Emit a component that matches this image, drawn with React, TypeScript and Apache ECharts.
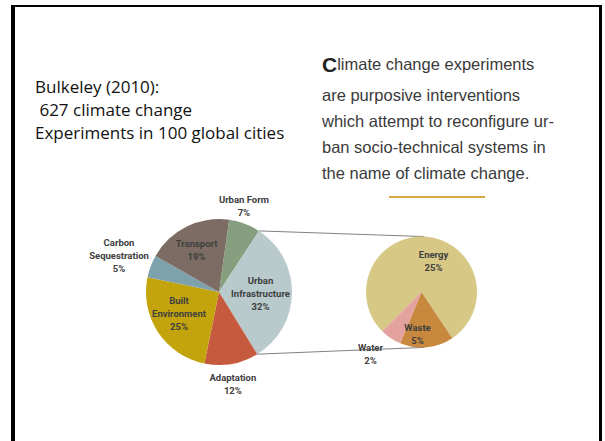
import React, { useEffect, useRef } from "react";
import * as echarts from "echarts";

// ---- data ----
const mainCategories = ["Urban Form", "Urban Infrastructure", "Adaptation", "Built Environment", "Carbon Sequestration", "Transport"];
const mainLabelNames = ["Urban Form", "Urban\nInfrastructure", "Adaptation", "Built\nEnvironment", "Carbon\nSequestration", "Transport"];
const mainValues = [7, 32, 12, 25, 5, 19];
const subCategories = ["Energy", "Waste", "Water"];
const subValues = [25, 5, 2];
const leftText = ["Bulkeley (2010):", " 627 climate change", "Experiments in 100 global cities"];
const quoteLines = ["are purposive interventions", "which attempt to reconfigure ur-", "ban socio-technical systems in", "the name of climate change."];

// ---- styles ----
const mainColors = ["#86a07f", "#b8cacb", "#c65a3f", "#c4a40c", "#7ea2ab", "#7c6c63"];
const subColors = ["#d8c886", "#c8893f", "#e3a29d"];
const mainNudges = [[11, -49], [2, 1], [7, 53], [-7, 0], [-63, -23], [-5, -7]];
const subNudges = [[9, 0], [-7, 11], [-34, 36]];

const C1 = [219, 292], R1 = 73, START1 = 82;
const C2 = [421.5, 292], R2 = 55.5, START2 = -135;

function pt(c: number[], r: number, clockDeg: number) {
  const a = (clockDeg * Math.PI) / 180;
  return [c[0] + r * Math.sin(a), c[1] - r * Math.cos(a)];
}

export default function App() {
  const ref = useRef<HTMLDivElement>(null);
  useEffect(() => {
    const chart = echarts.init(ref.current!, null, { renderer: "svg" });
    const total = mainValues.reduce((a, b) => a + b, 0);
    const base = 90 - START1;
    const infraStart = base + (mainValues[0] / total) * 360;
    const infraEnd = infraStart + (mainValues[1] / total) * 360;
    const p1 = pt(C1, R1, infraStart);
    const p2 = pt(C1, R1, infraEnd);
    const q1 = pt(C2, R2, 3);
    const q2 = pt(C2, R2, 177);

    const labelStyle = {
      show: true,
      position: "inside",
      fontFamily: "Roboto",
      fontSize: 9.5,
      fontWeight: "bold",
      color: "#404040",
      lineHeight: 13,
    };

    chart.setOption({
      animation: false,
      series: [
        {
          type: "pie",
          silent: true,
          center: C1,
          radius: R1,
          startAngle: START1,
          clockwise: true,
          label: { ...labelStyle, formatter: (p: any) => mainLabelNames[p.dataIndex] + "\n" + p.value + "%" },
          labelLine: { show: false },
          labelLayout: (p: any) => ({ dx: mainNudges[p.dataIndex][0], dy: mainNudges[p.dataIndex][1] }),
          itemStyle: { borderWidth: 0 },
          data: mainCategories.map((n, i) => ({ name: n, value: mainValues[i], itemStyle: { color: mainColors[i] } })),
        },
        {
          type: "pie",
          silent: true,
          center: C2,
          radius: R2,
          startAngle: START2,
          clockwise: true,
          label: { ...labelStyle, formatter: (p: any) => p.name + "\n" + p.value + "%" },
          labelLine: { show: false },
          labelLayout: (p: any) => ({ dx: subNudges[p.dataIndex][0], dy: subNudges[p.dataIndex][1] }),
          itemStyle: { borderWidth: 0 },
          data: subCategories.map((n, i) => ({ name: n, value: subValues[i], itemStyle: { color: subColors[i] } })),
        },
      ],
      graphic: [
        { type: "rect", shape: { x: 11, y: 5, width: 4, height: 436 }, style: { fill: "#000" } },
        { type: "rect", shape: { x: 11, y: 5, width: 591, height: 2 }, style: { fill: "#000" } },
        { type: "rect", shape: { x: 599, y: 5, width: 3, height: 436 }, style: { fill: "#000" } },
        { type: "line", shape: { x1: p1[0], y1: p1[1], x2: q1[0], y2: q1[1] }, style: { stroke: "#808080", lineWidth: 1 } },
        { type: "line", shape: { x1: p2[0], y1: p2[1], x2: q2[0], y2: q2[1] }, style: { stroke: "#808080", lineWidth: 1 } },
        { type: "line", shape: { x1: 389, y1: 197, x2: 485, y2: 197 }, style: { stroke: "#d4aa3a", lineWidth: 2 } },
        ...leftText.map((t, i) => ({
          type: "text",
          x: 35,
          y: 86 + i * 23,
          style: { text: t, fontFamily: "Open Sans", fontSize: 17, fill: "#111", verticalAlign: "middle", textAlign: "left" },
        })),
        {
          type: "text",
          x: 322,
          y: 64,
          style: {
            text: "{a|C}{b|limate change experiments}",
            verticalAlign: "middle",
            rich: {
              a: { fontFamily: "Liberation Sans", fontWeight: "bold", fontSize: 21, fill: "#222" },
              b: { fontFamily: "Liberation Sans", fontSize: 16.5, fill: "#3a3a3a" },
            },
          },
        },
        ...quoteLines.map((t, i) => ({
          type: "text",
          x: 322,
          y: 95 + i * 26,
          style: { text: t, fontFamily: "Liberation Sans", fontSize: 16.5, fill: "#3a3a3a", verticalAlign: "middle", textAlign: "left" },
        })),
      ],
    });
    return () => chart.dispose();
  }, []);
  return <div ref={ref} style={{ position: "fixed", left: 0, top: 0, width: 605, height: 441, background: "#fff" }} />;
}
